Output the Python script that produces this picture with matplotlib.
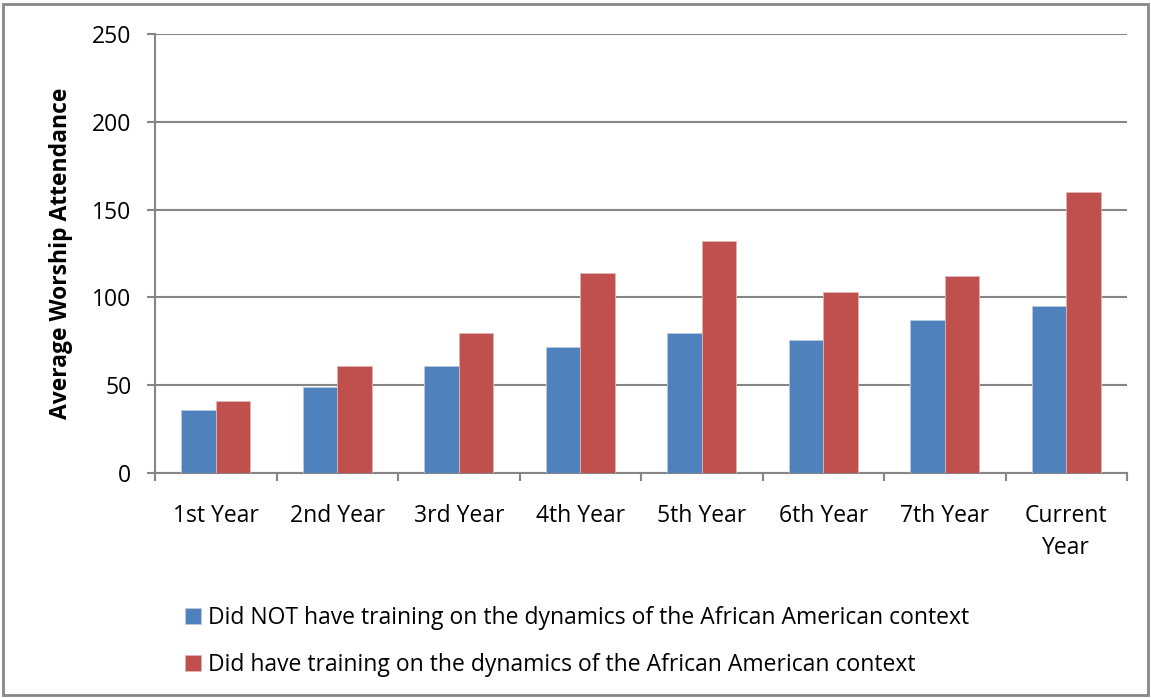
import numpy as np
import matplotlib.pyplot as plt
from matplotlib.patches import Rectangle

plt.rcParams['font.family'] = ['Open Sans', 'DejaVu Sans']

# --- Data ---
categories = ["1st Year", "2nd Year", "3rd Year", "4th Year", "5th Year",
              "6th Year", "7th Year", "Current\nYear"]
no_training = [36, 49, 61, 72, 80, 76, 87, 95]
had_training = [41, 61, 80, 114, 132, 103, 112, 160]
labels = ["Did NOT have training on the dynamics of the African American context",
          "Did have training on the dynamics of the African American context"]

blue = "#4F81BD"
red = "#C0504D"
grid_gray = "#868686"
fs = 16.5

fig = plt.figure(figsize=(11.51, 6.98), dpi=100)
ax = fig.add_axes([155 / 1151, 1 - 473 / 698, 972 / 1151, 439 / 698])

x = np.arange(len(categories))
w = 0.284
b1 = ax.bar(x - w, no_training, width=w, align='edge', color=blue,
            edgecolor="#b9c9e0", linewidth=0.6, label=labels[0], zorder=3)
b2 = ax.bar(x, had_training, width=w, align='edge', color=red,
            edgecolor="#e0b5b4", linewidth=0.6, label=labels[1], zorder=3)

ax.set_xlim(-0.5, len(categories) - 0.5)
ax.set_ylim(0, 250)
ax.set_yticks(range(0, 251, 50))
ax.yaxis.grid(True, color=grid_gray, linewidth=1.5, zorder=0)
ax.set_axisbelow(True)

# category separators as major ticks, labels on minor ticks
ax.set_xticks(np.arange(-0.5, len(categories), 1.0))
ax.set_xticklabels([])
ax.set_xticks(x, minor=True)
ax.set_xticklabels(categories, minor=True, fontsize=fs, linespacing=1.45)
ax.tick_params(axis='x', which='major', length=6, width=1.5, color=grid_gray)
ax.tick_params(axis='x', which='minor', length=0, pad=22)
ax.tick_params(axis='y', length=6, width=1.5, color=grid_gray, labelsize=fs, pad=11)

for side in ['top', 'right']:
    ax.spines[side].set_visible(False)
for side in ['left', 'bottom']:
    ax.spines[side].set_color(grid_gray)
    ax.spines[side].set_linewidth(1.5)

ax.set_ylabel("Average Worship Attendance", fontsize=fs, fontweight='bold', labelpad=14)

fig.legend(handles=[b1, b2], loc='upper left', bbox_to_anchor=(176 / 1151, 1 - 597 / 698),
           frameon=False, fontsize=fs, handlelength=0.7, handleheight=0.7,
           handletextpad=0.3, labelspacing=0.98, borderaxespad=0)

# outer border
fig.add_artist(Rectangle((0.003, 0.004), 0.994, 0.99, transform=fig.transFigure,
                         fill=False, edgecolor="#878787", linewidth=2))

plt.savefig("out.png", dpi=100)
